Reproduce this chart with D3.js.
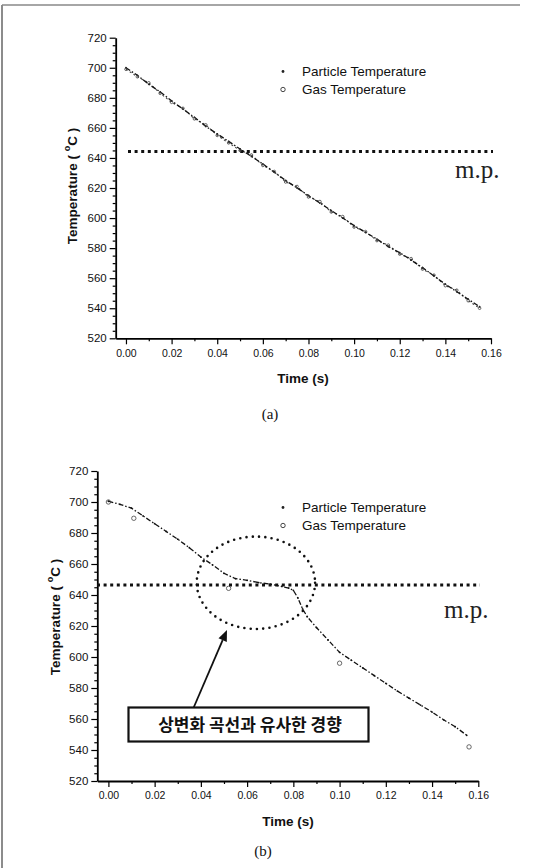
<!DOCTYPE html>
<html><head><meta charset="utf-8">
<script src="https://cdn.jsdelivr.net/npm/d3@7/dist/d3.min.js"></script>
<style>
html,body{margin:0;padding:0;background:#fff;}
svg{display:block;}
</style></head>
<body>
<svg id="c" width="535" height="868"></svg>
<script>
// ---------- data ----------
const xTicks = [0,0.02,0.04,0.06,0.08,0.10,0.12,0.14,0.16];
const xMinor = [0.01,0.03,0.05,0.07,0.09,0.11,0.13,0.15];
const yTicks = [520,540,560,580,600,620,640,660,680,700,720];
const yMinor = [525,530,535,545,550,555,565,570,575,585,590,595,605,610,615,625,630,635,645,650,655,665,670,675,685,690,695,705,710,715];
const seriesNames = ["Particle Temperature","Gas Temperature"];

// (a)
const timeA = [0,0.005,0.010,0.015,0.020,0.025,0.030,0.035,0.040,0.045,0.050,0.055,0.060,0.065,0.070,0.075,0.080,0.085,0.090,0.095,0.100,0.105,0.110,0.115,0.120,0.125,0.130,0.135,0.140,0.145,0.150,0.155];
const particleA = [700,695,689,684,678,672.5,667,661,656,651,646,641,636,630.5,625,620,615,610,605,600,595,590.5,586,581,577,572,567,561.5,556,551,546,541];
const gasA      = [699,694,690,683,677,673,666,662,655,650,645,642,635,631,624,621,614,611,604,601,594,591,585,582,576,573,566,562,555,552,545,540];
const mpA = 644.3;

// (b)
const timeB = [0,0.005,0.010,0.015,0.020,0.025,0.030,0.035,0.040,0.045,0.050,0.055,0.060,0.065,0.070,0.075,0.078,0.080,0.082,0.084,0.086,0.090,0.095,0.100,0.105,0.110,0.115,0.120,0.125,0.130,0.135,0.140,0.145,0.150,0.155];
const particleB = [700.5,698.5,696,691,686,681,676,670.5,664.5,659.5,654,650.5,649.5,648,647,645.5,644.5,643,638,631,626,619,611,603,598,593,588,583,578,573.5,569,564.5,559.5,555,549.5];
const gasTimeB = [0,0.011,0.052,0.100,0.156];
const gasB     = [700,689.5,644.3,596,542];
const mpB = 646.5;
const noteB = "상변화 곡선과 유사한 경향";
const ellipseB = {t:0.0638, v:647.9, rt:0.0256, rv:29.8};
const arrowB = {t0:0.0368, v0:567.1, t1:0.0513, v1:617.4};

// ---------- drawing ----------
const SANS = '"Liberation Sans", Arial, sans-serif';
const SERIF = '"Liberation Serif", "DejaVu Serif", serif';
const svg = d3.select("#c");
svg.append("line").attr("x1",2).attr("x2",2).attr("y1",5).attr("y2",868).attr("stroke","#666").attr("stroke-width",1.5);
svg.append("line").attr("x1",2).attr("x2",520).attr("y1",5).attr("y2",5).attr("stroke","#888").attr("stroke-width",1.5);

function panel(cfg){
  const g = svg.append("g");
  const x = d3.scaleLinear().domain(cfg.xdom).range(cfg.xr);
  const y = d3.scaleLinear().domain([520,720]).range(cfg.yr);
  const y0 = cfg.yr[0];
  g.append("g").attr("transform",`translate(0,${y0})`)
    .call(d3.axisBottom(x).tickValues(xMinor).tickSize(3).tickFormat(""))
    .call(a=>a.select(".domain").remove());
  g.append("g").attr("transform",`translate(${cfg.xr[0]},0)`)
    .call(d3.axisLeft(y).tickValues(yMinor).tickSize(3).tickFormat(""))
    .call(a=>a.select(".domain").remove());
  const xa = g.append("g").attr("transform",`translate(0,${y0})`)
    .call(d3.axisBottom(x).tickValues(xTicks).tickSize(6).tickPadding(5).tickSizeOuter(0).tickFormat(d3.format(".2f")));
  xa.selectAll("text").style("font-size","10.5px").style("font-family",SANS).attr("fill","#111");
  const ya = g.append("g").attr("transform",`translate(${cfg.xr[0]},0)`)
    .call(d3.axisLeft(y).tickValues(yTicks).tickSize(6).tickPadding(3).tickSizeOuter(0));
  ya.selectAll("text").style("font-size","11.5px").style("font-family",SANS).attr("fill","#111");
  g.selectAll(".domain").attr("stroke-width",1.8);
  g.selectAll(".tick line").attr("stroke-width",1.2);

  g.append("line").attr("x1",cfg.mpx[0]).attr("x2",cfg.mpx[1]).attr("y1",y(cfg.mp)).attr("y2",y(cfg.mp))
    .attr("stroke","#111").attr("stroke-width",3).attr("stroke-dasharray","3,3.6");
  g.append("text").attr("x",cfg.mpText[0]).attr("y",cfg.mpText[1]).text("m.p.")
    .style("font-family",SERIF).style("font-size","25px").attr("fill","#222");

  const line = d3.line().x(d=>x(d[0])).y(d=>y(d[1]));
  const pData = cfg.tP.map((t,i)=>[t,cfg.vP[i]]);
  const gData = cfg.tG.map((t,i)=>[t,cfg.vG[i]]);
  if(cfg.gasLine){
    g.append("path").attr("d",line(gData)).attr("fill","none").attr("stroke","#444").attr("stroke-width",1.1).attr("stroke-dasharray","2,2.5");
  }
  g.append("path").attr("d",line(pData)).attr("fill","none").attr("stroke","#111").attr("stroke-width",1.3).attr("stroke-dasharray","5,2,1.5,2");
  g.selectAll(".pm").data(pData).enter().append("circle").attr("cx",d=>x(d[0])).attr("cy",d=>y(d[1])).attr("r",0.9).attr("fill","#111");
  g.selectAll(".gm").data(gData).enter().append("circle").attr("cx",d=>x(d[0])).attr("cy",d=>y(d[1])).attr("r",cfg.gasR)
    .attr("fill","none").attr("stroke","#444").attr("stroke-width",0.8);

  const L = cfg.leg;
  g.append("circle").attr("cx",L[0]).attr("cy",L[1]).attr("r",1.4).attr("fill","#222");
  g.append("circle").attr("cx",L[0]).attr("cy",L[1]+18).attr("r",2.2).attr("fill","none").attr("stroke","#333").attr("stroke-width",0.9);
  seriesNames.forEach((s,i)=>{
    g.append("text").attr("x",L[0]+19).attr("y",L[1]+i*18).attr("dy","0.35em")
      .style("font-family",SANS).style("font-size","13.5px").attr("fill","#111").text(s);
  });

  g.append("text").attr("x",cfg.xt[0]).attr("y",cfg.xt[1]).attr("text-anchor","middle")
    .style("font-family",SANS).style("font-size","13.5px").style("font-weight","bold").attr("fill","#111").text("Time (s)");
  const yt = g.append("text").attr("transform",`translate(${cfg.yt[0]},${cfg.yt[1]}) rotate(-90)`).attr("text-anchor","middle")
    .attr("dy","0.35em").style("font-family",SANS).style("font-size","13.5px").style("font-weight","bold").attr("fill","#111");
  yt.append("tspan").text("Temperature ( ");
  yt.append("tspan").text("o").style("font-size","9px").attr("dy","-0.75em");
  yt.append("tspan").text("C )").attr("dy","0.55em");

  g.append("text").attr("x",cfg.cap[0]).attr("y",cfg.cap[1]).attr("text-anchor","middle")
    .style("font-family",SERIF).style("font-size","15px").attr("fill","#111").text(cfg.capText);
  return {g,x,y};
}

panel({xdom:[-0.0045,0.16], xr:[115.7,491], yr:[338.3,37.7], mp:mpA, mpx:[128,493], mpText:[455,178],
  tP:timeA, vP:particleA, tG:timeA, vG:gasA, gasLine:true, gasR:1.3,
  leg:[283,71.5], xt:[303,382.5], yt:[72,186], cap:[270,419], capText:"(a)"});

const B = panel({xdom:[-0.0048,0.16], xr:[97.3,478.3], yr:[781,471], mp:mpB, mpx:[97,480], mpText:[444,618],
  tP:timeB, vP:particleB, tG:gasTimeB, vG:gasB, gasLine:false, gasR:2.2,
  leg:[283,507.5], xt:[288,826], yt:[55,617], cap:[263,856], capText:"(b)"});

B.g.append("ellipse").attr("cx",B.x(ellipseB.t)).attr("cy",B.y(ellipseB.v))
  .attr("rx",B.x(ellipseB.t+ellipseB.rt)-B.x(ellipseB.t)).attr("ry",B.y(ellipseB.v-ellipseB.rv)-B.y(ellipseB.v))
  .attr("fill","none").attr("stroke","#111").attr("stroke-width",2.6).attr("stroke-linecap","round").attr("stroke-dasharray","0,6.3");
const ax0=B.x(arrowB.t0), ay0=B.y(arrowB.v0), ax1=B.x(arrowB.t1), ay1=B.y(arrowB.v1);
const ang=Math.atan2(ay1-ay0,ax1-ax0), hl=11, hw=4.5;
const bx=ax1-hl*Math.cos(ang), by=ay1-hl*Math.sin(ang);
B.g.append("line").attr("x1",ax0).attr("y1",ay0).attr("x2",bx).attr("y2",by).attr("stroke","#111").attr("stroke-width",1.8);
B.g.append("path").attr("d",`M${ax1},${ay1}L${bx+hw*Math.sin(ang)},${by-hw*Math.cos(ang)}L${bx-hw*Math.sin(ang)},${by+hw*Math.cos(ang)}Z`).attr("fill","#111");
B.g.append("rect").attr("x",128.5).attr("y",707.5).attr("width",240).attr("height",34).attr("fill","#fff").attr("stroke","#111").attr("stroke-width",2.2);
B.g.append("text").attr("x",250).attr("y",725).attr("dy","0.36em").attr("text-anchor","middle")
  .style("font-family",'"Noto Sans CJK KR", sans-serif').style("font-size","17px").style("font-weight","bold").attr("fill","#111").text(noteB);
</script>
</body></html>
